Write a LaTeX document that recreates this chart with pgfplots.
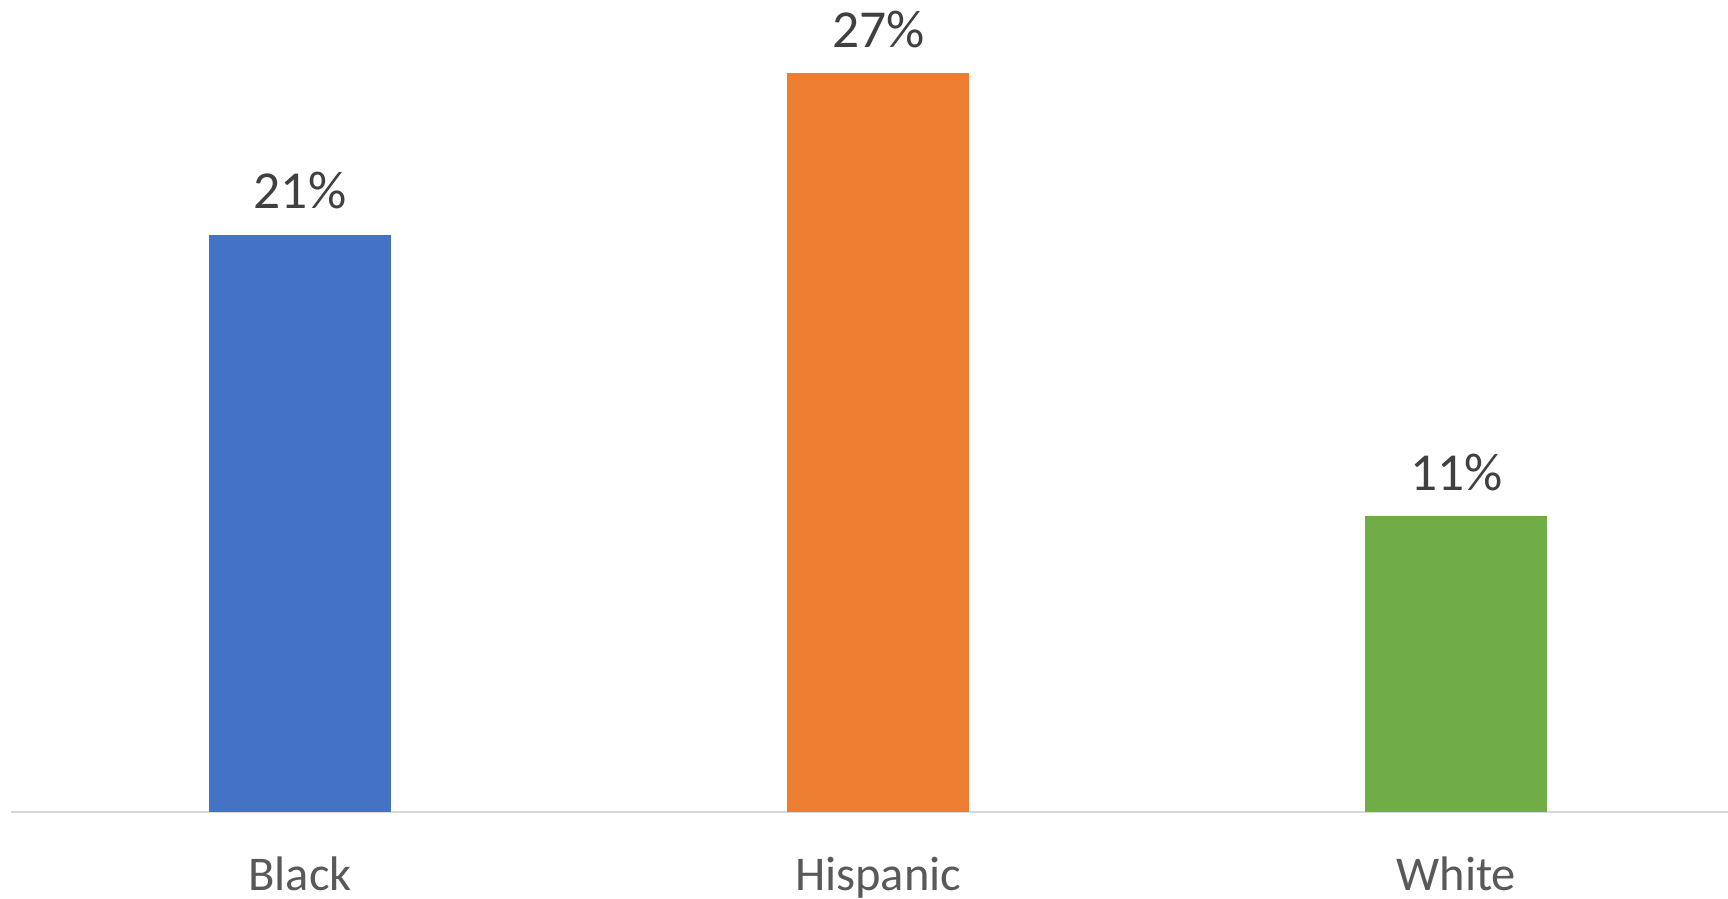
\documentclass[border=0pt]{standalone}
\usepackage{fontspec}
\setmainfont{Carlito}
\usepackage{pgfplots}
\pgfplotsset{compat=1.18}
\definecolor{cBlue}{HTML}{4472C4}
\definecolor{cOrange}{HTML}{ED7D31}
\definecolor{cGreen}{HTML}{70AD47}
\definecolor{labgray}{HTML}{404040}
\definecolor{catgray}{HTML}{595959}
\definecolor{linegray}{HTML}{D9D9D9}
\begin{document}
\begin{tikzpicture}
\begin{axis}[
  scale only axis, width=171.7mm, height=81.2mm,
  xmin=-0.5, xmax=2.47, ymin=0, ymax=29.67,
  ybar, bar width=18.2mm, bar shift=0pt,
  axis y line=none, axis x line*=bottom,
  x axis line style={-, draw=linegray, line width=0.2mm},
  xtick={0,1,2}, xticklabels={Black,Hispanic,White},
  major tick length=0pt,
  xticklabel style={anchor=base, yshift=-7.9mm, font=\fontsize{13.8}{16}\selectfont, text=catgray},
  /pgf/number format/assume math mode=true,
  nodes near coords={\pgfmathprintnumber[fixed,precision=0]{\pgfplotspointmeta}\%},
  every node near coord/.append style={anchor=base, yshift=2.6mm, font=\fontsize{15.2}{17}\selectfont, text=labgray},
  clip=false,
]
\addplot[fill=cBlue, draw=none] coordinates {(0,21.1)};
\addplot[fill=cOrange, draw=none] coordinates {(1,27.0)};
\addplot[fill=cGreen, draw=none] coordinates {(2,10.8)};
\coordinate (o) at (rel axis cs:0,0);
\end{axis}
\pgfresetboundingbox
\path (o) ++(-1.1mm,-8.7mm) rectangle ++(172.8mm,89.9mm);
\end{tikzpicture}
\end{document}
